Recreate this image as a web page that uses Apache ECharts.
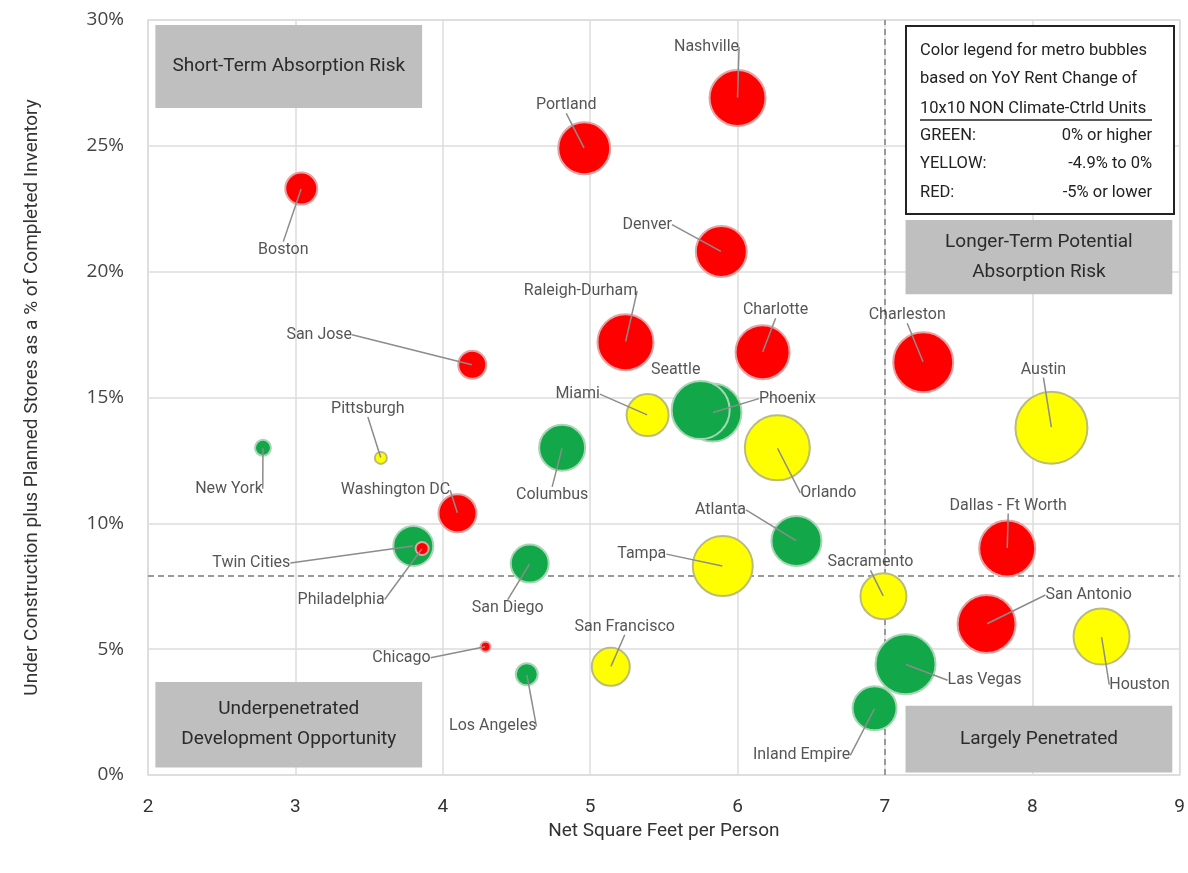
<!DOCTYPE html>
<html>
<head>
<meta charset="utf-8">
<title>Self storage pipeline vs supply</title>
<script src="https://cdn.jsdelivr.net/npm/echarts@6/dist/echarts.min.js"></script>
<style>
  html, body { margin: 0; padding: 0; background: #fff; }
  #chart { width: 1188px; height: 873px; }
</style>
</head>
<body>
<div id="chart"></div>
<script>
// metro data
const cities = ['Nashville', 'Portland', 'Denver', 'Boston', 'Raleigh-Durham', 'Charlotte', 'Charleston',
  'Austin', 'San Jose', 'New York', 'Pittsburgh', 'Columbus', 'Washington DC', 'Twin Cities', 'Philadelphia',
  'San Diego', 'Chicago', 'Los Angeles', 'San Francisco', 'Miami', 'Phoenix', 'Seattle', 'Orlando',
  'Atlanta', 'Tampa', 'Sacramento', 'Dallas - Ft Worth', 'San Antonio', 'Houston', 'Las Vegas', 'Inland Empire'];
const sqftPerPerson = [6.00, 4.96, 5.89, 3.04, 5.24, 6.17, 7.26,
  8.13, 4.20, 2.78, 3.58, 4.81, 4.10, 3.80, 3.86,
  4.59, 4.29, 4.57, 5.14, 5.39, 5.83, 5.75, 6.27,
  6.40, 5.90, 6.99, 7.83, 7.69, 8.47, 7.14, 6.93];
const pipelinePct = [26.9, 24.9, 20.8, 23.3, 17.2, 16.8, 16.4,
  13.8, 16.3, 13.0, 12.6, 13.0, 10.4, 9.1, 9.0,
  8.4, 5.1, 4.0, 4.3, 14.3, 14.4, 14.5, 13.0,
  9.3, 8.3, 7.1, 9.0, 6.0, 5.5, 4.4, 2.65];
// relative bubble size (metro inventory)
const bubbleSize = [28, 26, 25.5, 16, 28, 27, 30,
  36, 14, 8, 6, 23, 19, 20, 6.5,
  19, 5, 11, 19, 21, 29, 29, 32.5,
  25, 30, 23, 28, 29, 28, 30, 22];
// YoY rent change band: G = 0% or higher, Y = -4.9% to 0%, R = -5% or lower
const rentBand = ['R', 'R', 'R', 'R', 'R', 'R', 'R',
  'Y', 'R', 'G', 'Y', 'G', 'R', 'G', 'R',
  'G', 'R', 'G', 'Y', 'Y', 'G', 'G', 'Y',
  'G', 'Y', 'Y', 'R', 'R', 'Y', 'G', 'G'];

const xTicks = [2, 9, 1];
const yTicks = [0, 30, 5];
const hLine = 7.9;
const vLine = 7;

// label offsets from bubble centre, px
const labelShift = {
  'Nashville': [-31, -51], 'Portland': [-18, -43], 'Denver': [-74, -27], 'Boston': [-18, 61],
  'Raleigh-Durham': [-45, -51], 'Charlotte': [13, -42], 'Charleston': [-16, -47], 'Austin': [-8, -58],
  'San Jose': [-153, -30], 'New York': [-34, 41], 'Pittsburgh': [-13, -49], 'Washington DC': [-62, -23],
  'Columbus': [-10, 47], 'Twin Cities': [-162, 17], 'Philadelphia': [-81, 51], 'San Diego': [-22, 44],
  'Chicago': [-84, 11], 'Los Angeles': [-34, 52], 'San Francisco': [14, -40], 'Miami': [-70, -21],
  'Seattle': [-25, -40], 'Phoenix': [75, -14], 'Orlando': [51, 45], 'Atlanta': [-76, -31],
  'Tampa': [-81, -12], 'Sacramento': [-13, -34], 'Dallas - Ft Worth': [1, -43], 'San Antonio': [102, -29],
  'Houston': [38, 48], 'Las Vegas': [79, 16], 'Inland Empire': [-73, 47]
};

const bandColor = { G: '#12a84a', Y: '#ffff00', R: '#ff0000' };
const bandBorder = { G: '#a6d6b3', Y: '#bcbc7a', R: '#e6a3a3' };
const FONT = 'Roboto, "Noto Sans", sans-serif';

const bubbles = cities.map((c, i) => ({
  name: c,
  value: [sqftPerPerson[i], pipelinePct[i], bubbleSize[i]],
  itemStyle: { color: bandColor[rentBand[i]], borderColor: bandBorder[rentBand[i]], borderWidth: 2, opacity: 1 }
}));

// label anchors sit at the bubble centres so the leader lines run into the bubbles
const anchors = cities.map((c, i) => ({
  name: c,
  value: [sqftPerPerson[i], pipelinePct[i]],
  labelLine: c === 'Seattle' ? { show: false } : undefined
}));

const boxLabel = {
  show: true, position: 'inside', color: '#2b2b2b', fontSize: 19, fontFamily: FONT, lineHeight: 30
};

// legend box, text rows (relative to box)
const legendFont = '16.5px ' + FONT;
const legendRows = [
  ['Color legend for metro bubbles', ''],
  ['based on YoY Rent Change of', ''],
  ['10x10 NON Climate-Ctrld Units', ''],
  ['GREEN:', '0% or higher'],
  ['YELLOW:', '-4.9% to 0%'],
  ['RED:', '-5% or lower']
];
const rowY = [25, 53, 83, 110, 138, 167];
const legendChildren = [
  { type: 'rect', z: 100, shape: { x: 0, y: 0, width: 268, height: 188 }, style: { fill: '#fff', stroke: '#222', lineWidth: 2 } },
  { type: 'line', z: 101, shape: { x1: 14, y1: 94, x2: 246, y2: 94 }, style: { stroke: '#222', lineWidth: 1.5 } }
];
legendRows.forEach((r, i) => {
  legendChildren.push({ type: 'text', z: 101, x: 14, y: rowY[i], style: { text: r[0], font: legendFont, fill: '#222', verticalAlign: 'middle' } });
  if (r[1]) legendChildren.push({ type: 'text', z: 101, x: 246, y: rowY[i], style: { text: r[1], font: legendFont, fill: '#222', align: 'right', verticalAlign: 'middle' } });
});

const chart = echarts.init(document.getElementById('chart'));

chart.setOption({
  animation: false,
  grid: { left: 148, right: 8, top: 20, bottom: 98, show: true, borderColor: '#dcdcdc', borderWidth: 1.5 },
  xAxis: {
    type: 'value', min: xTicks[0], max: xTicks[1], interval: xTicks[2],
    name: 'Net Square Feet per Person', nameLocation: 'middle', nameGap: 46,
    nameTextStyle: { fontSize: 19, color: '#333', fontFamily: FONT },
    axisLine: { show: false }, axisTick: { show: false },
    axisLabel: { fontSize: 19, color: '#333', margin: 23, fontFamily: FONT },
    splitLine: { lineStyle: { color: '#dcdcdc', width: 1.5 } }
  },
  yAxis: {
    type: 'value', min: yTicks[0], max: yTicks[1], interval: yTicks[2],
    name: 'Under Construction plus Planned Stores as a % of Completed Inventory',
    nameLocation: 'middle', nameGap: 106,
    nameTextStyle: { fontSize: 19, color: '#333', fontFamily: FONT },
    axisLine: { show: false }, axisTick: { show: false },
    axisLabel: { formatter: '{value}%', fontSize: 19, color: '#444', margin: 24, fontFamily: '"Open Sans", sans-serif' },
    splitLine: { lineStyle: { color: '#dcdcdc', width: 1.5 } }
  },
  graphic: [
    { type: 'group', left: 905, top: 25, z: 100, children: legendChildren }
  ],
  series: [
    {
      type: 'scatter',
      data: bubbles,
      symbolSize: v => v[2] * 2,
      z: 5,
      emphasis: { disabled: true },
      markLine: {
        silent: true, symbol: 'none',
        label: { show: false },
        lineStyle: { color: '#9a9a9a', type: [6, 4], width: 2 },
        data: [{ xAxis: vLine }, { yAxis: hLine }]
      },
      markArea: {
        silent: true,
        itemStyle: { color: '#bfbfbf', opacity: 1 },
        label: boxLabel,
        data: [
          [{ name: 'Short-Term Absorption Risk', coord: [2.05, 29.8] }, { coord: [3.86, 26.5] }],
          [{ name: 'Longer-Term Potential\nAbsorption Risk', coord: [7.14, 22.05] }, { coord: [8.95, 19.1] }],
          [{ name: 'Underpenetrated\nDevelopment Opportunity', coord: [2.05, 3.7] }, { coord: [3.86, 0.3] }],
          [{ name: 'Largely Penetrated', coord: [7.14, 2.75] }, { coord: [8.95, 0.1] }]
        ]
      }
    },
    {
      type: 'scatter',
      data: anchors,
      symbolSize: 1,
      itemStyle: { color: 'rgba(0,0,0,0)' },
      z: 6,
      silent: true,
      label: {
        show: true, position: 'inside', formatter: '{b}',
        color: '#2b2b2b', fontSize: 16, fontFamily: FONT
      },
      labelLine: { show: true, lineStyle: { color: '#8c8c8c', width: 1.5 } },
      labelLayout: p => {
        const s = labelShift[cities[p.dataIndex]];
        return { dx: s[0], dy: s[1] };
      }
    }
  ]
});
</script>
</body>
</html>
